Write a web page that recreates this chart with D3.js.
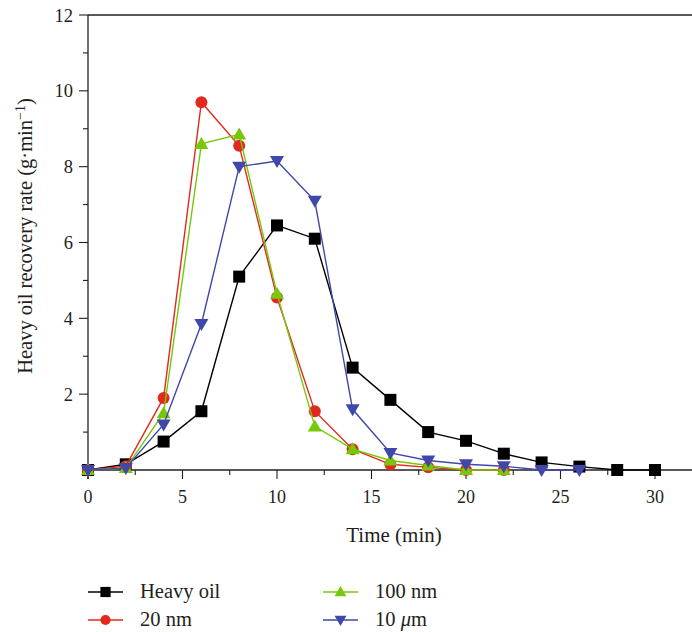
<!DOCTYPE html>
<html>
<head>
<meta charset="utf-8">
<script src="https://cdn.jsdelivr.net/npm/d3@7"></script>
<style>
  body { margin: 0; background: #fff; }
</style>
</head>
<body>
<svg id="chart"></svg>
<script>
// Time (min)
const times = [0, 2, 4, 6, 8, 10, 12, 14, 16, 18, 20, 22, 24, 26, 28, 30];

// Recovery rate (g·min⁻¹) per series, aligned with times
const heavyOil = [0, 0.15, 0.75, 1.55, 5.1, 6.45, 6.1, 2.7, 1.85, 1.0, 0.77, 0.43, 0.2, 0.09, 0, 0];
const nm20 = [0, 0.1, 1.9, 9.7, 8.55, 4.55, 1.55, 0.55, 0.15, 0.07, 0, 0];
const nm100 = [0, 0.05, 1.5, 8.6, 8.85, 4.65, 1.15, 0.55, 0.25, 0.12, 0, 0];
const um10 = [0, 0.05, 1.2, 3.85, 8.0, 8.15, 7.1, 1.6, 0.45, 0.25, 0.15, 0.1, 0, 0];

const xTicks = [0, 5, 10, 15, 20, 25, 30];
const yTicks = [2, 4, 6, 8, 10, 12];

const series = [
  { name: 'Heavy oil', values: heavyOil, color: '#000000', symbol: 'square' },
  { name: '20 nm', values: nm20, color: '#e3281e', symbol: 'circle' },
  { name: '100 nm', values: nm100, color: '#78c80a', symbol: 'up' },
  { name: '10 μm', values: um10, color: '#3f48a8', symbol: 'down' }
];

const width = 692, height = 632;
const FONT = '"Liberation Serif", "Times New Roman", serif';
const ink = '#231f20';

const svg = d3.select('#chart')
  .attr('width', width)
  .attr('height', height)
  .attr('viewBox', `0 0 ${width} ${height}`)
  .style('font-family', FONT);

const x = d3.scaleLinear().domain([0, 30]).range([88, 655]);
const y = d3.scaleLinear().domain([0, 12]).range([470, 15]);

// Frame: top and bottom lines run to the right edge
svg.append('line')
  .attr('x1', 88).attr('x2', width).attr('y1', y(12)).attr('y2', y(12))
  .attr('stroke', ink).attr('stroke-width', 1.3);

// X axis
const xAxis = svg.append('g').attr('transform', `translate(0, ${y(0)})`);
xAxis.append('line')
  .attr('x1', 88).attr('x2', width).attr('stroke', ink).attr('stroke-width', 1.3);
d3.range(0, 33, 2.5).forEach(t => {
  const major = t % 5 === 0;
  xAxis.append('line')
    .attr('x1', x(t)).attr('x2', x(t)).attr('y1', 0).attr('y2', major ? 9 : 5)
    .attr('stroke', ink).attr('stroke-width', 1.1);
});
xTicks.forEach(t => {
  xAxis.append('text')
    .attr('x', x(t)).attr('y', 33)
    .attr('text-anchor', 'middle')
    .attr('font-size', '18px')
    .attr('fill', ink)
    .text(t);
});

// Y axis
const yAxis = svg.append('g').attr('transform', `translate(88, 0)`);
yAxis.append('line')
  .attr('y1', y(0) + 9).attr('y2', y(12)).attr('stroke', ink).attr('stroke-width', 1.3);
d3.range(1, 13, 1).forEach(t => {
  const major = t % 2 === 0;
  yAxis.append('line')
    .attr('x1', major ? -9 : -5).attr('x2', 0).attr('y1', y(t)).attr('y2', y(t))
    .attr('stroke', ink).attr('stroke-width', 1.1);
});
yTicks.forEach(t => {
  yAxis.append('text')
    .attr('x', -15).attr('y', y(t) + 6.5)
    .attr('text-anchor', 'end')
    .attr('font-size', '18.5px')
    .attr('fill', ink)
    .text(t);
});

// Axis titles
svg.append('text')
  .attr('x', 394).attr('y', 542)
  .attr('text-anchor', 'middle')
  .attr('font-size', '21px')
  .attr('fill', ink)
  .text('Time (min)');

const yTitle = svg.append('text')
  .attr('transform', `translate(32, 236) rotate(-90)`)
  .attr('text-anchor', 'middle')
  .attr('font-size', '20.5px')
  .attr('fill', ink);
yTitle.append('tspan').text('Heavy oil recovery rate (g·min');
yTitle.append('tspan').attr('dy', -7).attr('font-size', '14px').text('−1');
yTitle.append('tspan').attr('dy', 7).text(')');

// Markers
function drawMarker(g, sym, color, cx, cy, k = 1) {
  if (sym === 'square') {
    g.append('rect').attr('x', cx - 6 * k).attr('y', cy - 6 * k)
      .attr('width', 12 * k).attr('height', 12 * k).attr('fill', color);
  } else if (sym === 'circle') {
    g.append('circle').attr('cx', cx).attr('cy', cy).attr('r', 6 * k).attr('fill', color);
  } else if (sym === 'up') {
    g.append('path').attr('d', `M${cx},${cy - 7 * k}L${cx + 7 * k},${cy + 5 * k}L${cx - 7 * k},${cy + 5 * k}Z`).attr('fill', color);
  } else {
    g.append('path').attr('d', `M${cx},${cy + 7 * k}L${cx + 7 * k},${cy - 5 * k}L${cx - 7 * k},${cy - 5 * k}Z`).attr('fill', color);
  }
}

const line = d3.line().x(d => x(d[0])).y(d => y(d[1]));

series.forEach(s => {
  const pts = s.values.map((v, i) => [times[i], v]);
  const g = svg.append('g');
  g.append('path')
    .attr('d', line(pts))
    .attr('fill', 'none')
    .attr('stroke', s.color)
    .attr('stroke-width', 1.4);
  pts.forEach(p => drawMarker(g, s.symbol, s.color, x(p[0]), y(p[1])));
});

// Legend
const legendPos = [
  { lx: 88, ly: 592 }, { lx: 88, ly: 620 },
  { lx: 323, ly: 592 }, { lx: 323, ly: 620 }
];
series.forEach((s, i) => {
  const { lx, ly } = legendPos[i];
  const g = svg.append('g');
  g.append('line').attr('x1', lx).attr('x2', lx + 35).attr('y1', ly).attr('y2', ly)
    .attr('stroke', s.color).attr('stroke-width', 1.4);
  drawMarker(g, s.symbol, s.color, lx + 17.5, ly, 0.85);
  const t = g.append('text').attr('x', lx + 52).attr('y', ly + 6)
    .attr('font-size', '20.5px').attr('fill', ink);
  if (s.name === '10 μm') {
    t.append('tspan').text('10 ');
    t.append('tspan').attr('font-style', 'italic').text('μ');
    t.append('tspan').text('m');
  } else {
    t.text(s.name);
  }
});
</script>
</body>
</html>
